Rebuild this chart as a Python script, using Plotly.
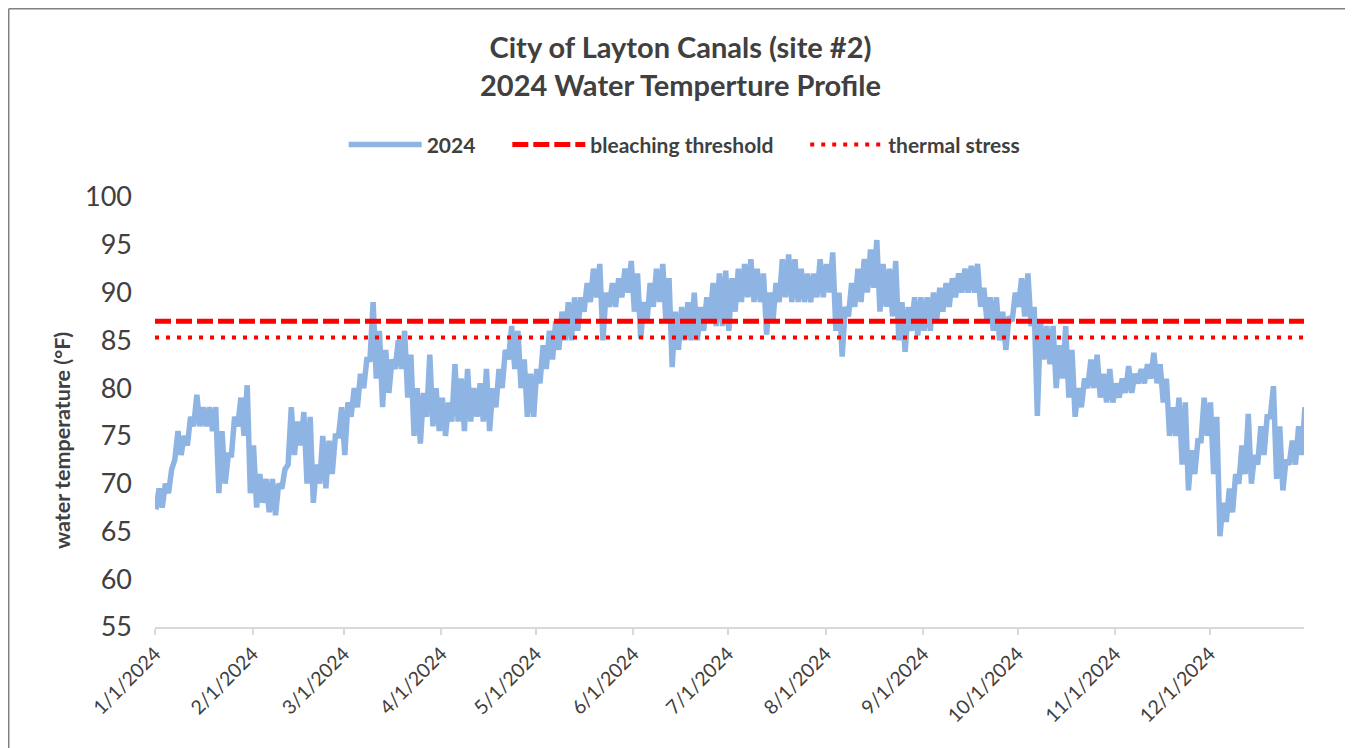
import pandas as pd
import plotly.graph_objects as go

# ---------------- data ----------------
start_date = "2024-01-01"
# every second day of 2024: daily low / high water temperature (deg F)
day_offsets = list(range(0, 365, 2))
daily_low = [
    67.3, 67.5, 69, 72.5, 73, 74, 76, 76, 76, 75.5,
    69, 70, 73, 76, 75, 69, 67.5, 68, 67, 66.7,
    69.5, 72, 73, 74, 70, 68, 70, 69.5, 71, 75,
    73, 77, 78, 80, 83, 81, 78, 79.5, 82, 82,
    79, 75, 74.2, 77, 76, 75.5, 75, 76.5, 76.5, 75.5,
    76.5, 77, 76.5, 75.5, 78, 80, 83, 82, 80, 77,
    77, 80.5, 82, 83, 84, 85, 85, 86, 88, 89,
    89.5, 85, 88.5, 88.5, 89.5, 90, 88, 85.2, 87, 88.5,
    89, 87, 82.2, 84, 85, 85, 85, 86, 87, 86.5,
    86.5, 86, 88, 89, 89.5, 89, 89, 85.6, 87, 89,
    89.5, 89, 89, 89, 89, 89.5, 89.5, 90, 86, 83.3,
    87.5, 88.5, 89, 90, 90.5, 88, 88.5, 87.5, 85, 83.8,
    86, 85.5, 86, 86, 87, 88, 88.5, 89.5, 90, 90,
    90, 88.5, 87, 86, 85, 84, 87, 88.5, 87.5, 86.5,
    77.1, 83, 82.5, 80, 81, 79, 77, 78, 80, 80,
    79, 78.5, 78.5, 79, 79.5, 79.5, 80.5, 80.5, 81, 80.5,
    78.5, 75, 75, 72, 69.3, 71, 74.5, 75, 71, 64.5,
    66, 67, 70, 71, 70, 72, 73, 77, 70.5, 69.3,
    72, 72, 73,
]
daily_high = [
    69.5, 70, 71.5, 75.5, 75, 77, 79.3, 78, 78, 78,
    75.5, 73, 77, 79, 80.3, 74, 71, 70.5, 70.5, 70,
    71.5, 78, 76.5, 77.5, 77, 72, 75, 74.5, 75, 78,
    78.5, 80, 81.5, 83, 89, 86, 84, 83, 85, 86,
    83.5, 80, 79.5, 83.5, 80, 79, 78.5, 82.5, 81, 82,
    80, 80.5, 82, 80, 82, 84, 86.5, 86, 83, 81.5,
    82, 84.5, 86, 87, 88, 89, 89.5, 89.5, 91, 92.5,
    93, 90, 91, 91.5, 92.5, 93.3, 92, 89, 91, 92.5,
    93, 91.5, 88, 88.5, 89, 90, 88.5, 89.5, 91, 92,
    92.3, 91.5, 92.5, 93, 93.5, 92.5, 92, 90, 91, 93.5,
    94, 93.5, 92.5, 92, 92, 93.5, 93, 94.2, 90, 88.5,
    91, 92.5, 93.5, 94.5, 95.5, 93, 92.5, 93.3, 89, 88.5,
    89.5, 89.5, 89.5, 90, 90.5, 91, 91.5, 92, 92.5, 92.8,
    93, 90.5, 89.5, 89.5, 88, 87.5, 90, 91.5, 92, 88.5,
    87, 86.5, 86.5, 84.5, 86.5, 84, 80, 81, 83, 83.5,
    81.5, 82, 80.5, 81, 82.3, 81.5, 82, 82.5, 83.7, 82.5,
    81, 78, 79, 78.5, 73.5, 74.5, 79, 78.5, 77, 68,
    69.5, 71, 74, 77.3, 73, 76, 77, 80.2, 76, 72.5,
    74.5, 76, 78,
]
bleaching_threshold = 87.0
thermal_stress = 85.3
threshold_dates = ["2024-01-01", "2024-12-31"]

tick_dates = ["2024-01-01", "2024-02-01", "2024-03-01", "2024-04-01", "2024-05-01",
              "2024-06-01", "2024-07-01", "2024-08-01", "2024-09-01", "2024-10-01",
              "2024-11-01", "2024-12-01"]
tick_labels = ["1/1/2024", "2/1/2024", "3/1/2024", "4/1/2024", "5/1/2024", "6/1/2024",
               "7/1/2024", "8/1/2024", "9/1/2024", "10/1/2024", "11/1/2024", "12/1/2024"]
y_ticks = [55, 60, 65, 70, 75, 80, 85, 90, 95, 100]

assert len(day_offsets) == len(daily_low) == len(daily_high)

# build the zig-zag (low in the morning, high the next afternoon)
t0 = pd.Timestamp(start_date)
xs, ys = [], []
for d, lo, hi in zip(day_offsets, daily_low, daily_high):
    xs.append(t0 + pd.Timedelta(days=d, hours=7))
    ys.append(lo)
    xs.append(t0 + pd.Timedelta(days=d + 1, hours=7))
    ys.append(hi)

TXT = "#404040"
FONT = "Lato"

fig = go.Figure()
fig.add_trace(go.Scatter(
    x=xs, y=ys, mode="lines", name="<b>2024</b>" + "&nbsp;" * 5,
    line=dict(color="#8EB4E3", width=5.5),
))
fig.add_trace(go.Scatter(
    x=threshold_dates, y=[bleaching_threshold] * 2, mode="lines",
    name="<b>bleaching threshold</b>" + "&nbsp;" * 5,
    line=dict(color="#FF0000", width=5, dash="16px,5px"),
))
fig.add_trace(go.Scatter(
    x=threshold_dates, y=[thermal_stress] * 2, mode="lines",
    name="<b>thermal stress</b>",
    line=dict(color="#FF0000", width=4, dash="4px,7px"),
))

BORDER_X = -0.1273
BORDER_TOP = 1.4378

fig.update_layout(
    width=1345, height=740,
    paper_bgcolor="white", plot_bgcolor="white",
    margin=dict(l=147, r=49, t=189, b=121, autoexpand=False),
    font=dict(family=FONT, color=TXT),
    title=dict(
        text="<b>City of Layton Canals (site #2)<br>2024 Water Temperture Profile</b>",
        x=0.5, xanchor="center", y=0.9324, yanchor="middle",
        font=dict(family=FONT, size=29, color=TXT),
    ),
    legend=dict(
        orientation="h", x=0.461, xanchor="center", y=1.121, yanchor="middle",
        font=dict(family=FONT, size=21, color=TXT),
        itemwidth=73, tracegroupgap=0, bgcolor="rgba(0,0,0,0)",
    ),
    xaxis=dict(
        type="date", range=["2024-01-01", "2024-12-31"],
        tickvals=tick_dates, ticktext=tick_labels, tickangle=-45,
        tickfont=dict(family=FONT, size=19.5, color=TXT),
        showgrid=False, zeroline=False,
        showline=True, linecolor="#D9D9D9", linewidth=1.5,
        ticks="outside", ticklen=6, tickcolor="#D9D9D9", tickwidth=1.5,
    ),
    yaxis=dict(
        range=[55, 100], tickvals=y_ticks,
        tickfont=dict(family=FONT, size=27, color=TXT),
        showgrid=False, zeroline=False, showline=False,
        ticks="", ticklabelstandoff=22,
    ),
    annotations=[dict(
        text="<b>water temperature (°F)</b>", textangle=-90,
        xref="paper", yref="paper", x=-0.0809, y=0.4326,
        xanchor="center", yanchor="middle", showarrow=False,
        font=dict(family=FONT, size=21.5, color=TXT),
    )],
    shapes=[
        dict(type="line", xref="paper", yref="paper",
             x0=BORDER_X, x1=1.0366, y0=BORDER_TOP, y1=BORDER_TOP,
             line=dict(color="#808080", width=1.5), layer="below"),
        dict(type="line", xref="paper", yref="paper",
             x0=BORDER_X, x1=BORDER_X, y0=-0.5, y1=BORDER_TOP,
             line=dict(color="#808080", width=1.5), layer="below"),
    ],
)

fig.write_html("out.html")
